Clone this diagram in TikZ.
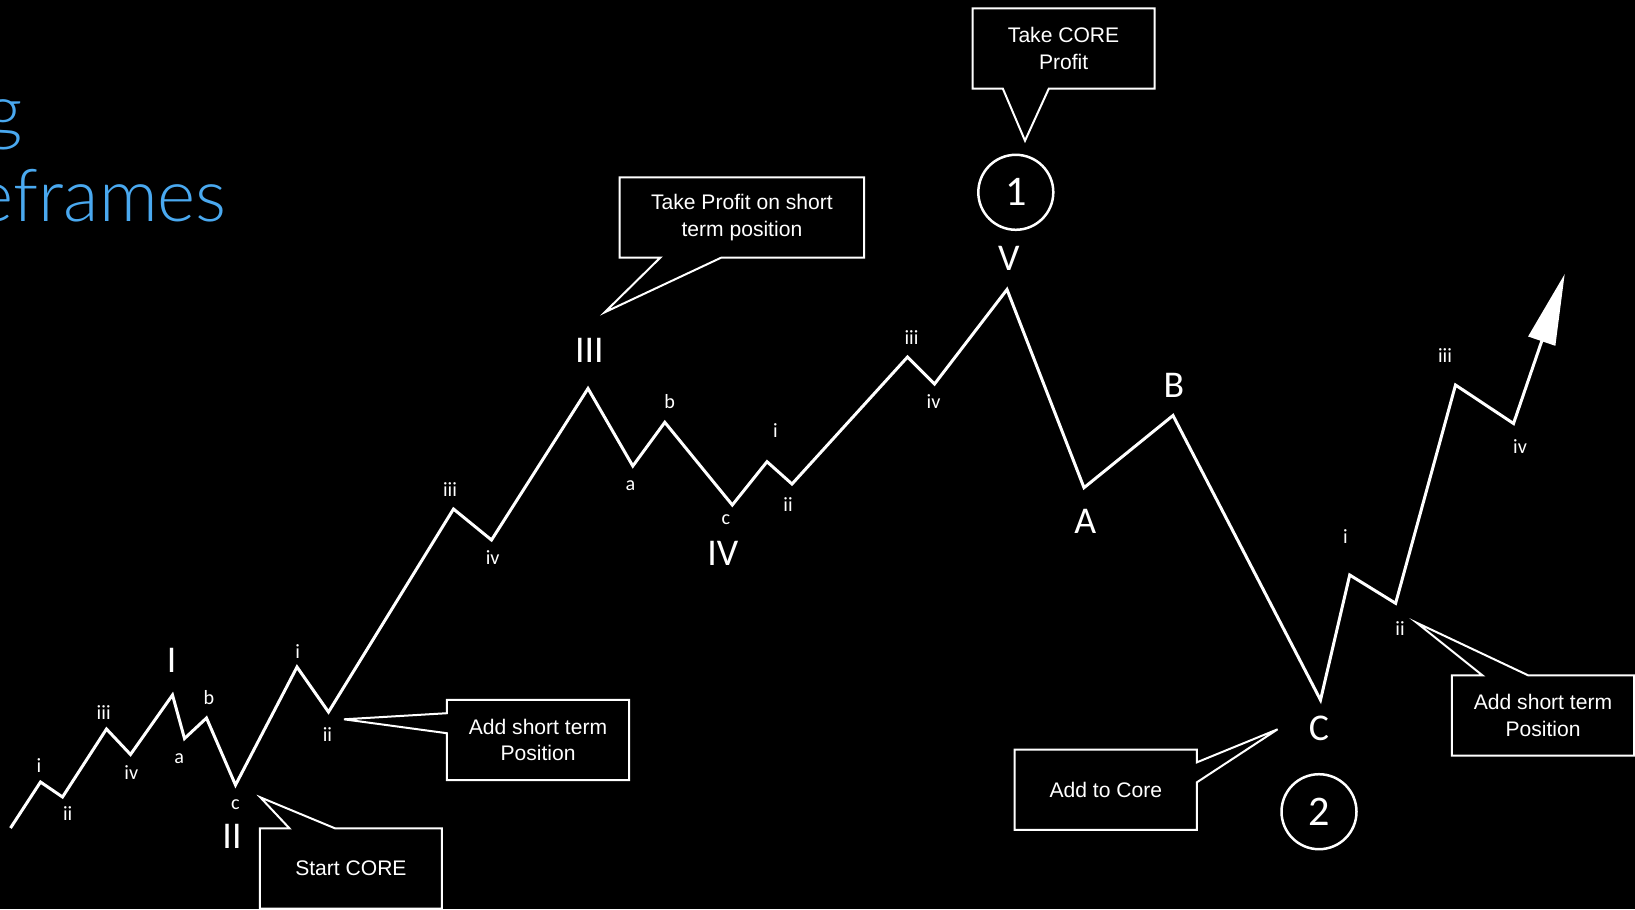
\documentclass[tikz,border=0pt]{standalone}
\usepackage{fontspec}
\setmainfont{Liberation Sans}
\newfontfamily\wavefont{Carlito}
\newfontfamily\titlefont{Lato Light}
\usetikzlibrary{arrows.meta,calc}
\definecolor{tfblue}{RGB}{74,169,240}
\tikzstyle{callbox} = [rectangle, minimum width=3.63cm, minimum height=1.59cm, inner sep=0pt, align=center, text=white, font=\fontsize{12}{15}\selectfont]
\tikzstyle{callline} = [draw=white, line width=0.04cm]
\tikzstyle{wave} = [draw=white, line width=0.06cm]
\tikzstyle{minor} = [text=white, inner sep=0pt, font=\wavefont\fontsize{11.5}{13}\selectfont]
\tikzstyle{major} = [text=white, inner sep=0pt, font=\wavefont\fontsize{21.5}{25}\selectfont]
\tikzstyle{marker} = [circle, draw=white, line width=0.05cm, minimum size=1.5cm, inner sep=0pt, text=white, font=\wavefont\fontsize{24}{28}\selectfont]
\tikzstyle{title} = [text=tfblue, inner sep=0pt, anchor=base east, font=\titlefont\fontsize{41.5}{48}\selectfont]
\begin{document}
\begin{tikzpicture}[x=0.02cm, y=-0.02cm]
\useasboundingbox (0,0) rectangle (1635,909);
\fill[black] (0,0) rectangle (1635,909);
\clip (0,0) rectangle (1635,909);

% title, cut off at the left
\node[title] (ttl1) at (23.5,136) {g};
\node[title] (ttl2) at (227,221.7) {eframes};

% the wave
\draw[wave, -{Triangle[length=1.42cm, width=0.56cm]}] (10.5,828) -- (40.5,782) -- (62.5,797) -- (106.5,729) -- (130.5,754.5) -- (172.5,695)
  -- (184.5,738.5) -- (206.5,718) -- (235.5,785)
  -- (297,667) -- (328.5,712) -- (453.5,509) -- (491.5,540) -- (588,388.5)
  -- (632.8,466) -- (664.8,422.3) -- (732.3,505)
  -- (767,461.7) -- (792,484) -- (907.5,357) -- (934.5,384) -- (1007,289.5)
  -- (1084,487.7) -- (1173,415.5) -- (1320.5,700)
  -- (1349.7,575) -- (1395.6,603.3) -- (1455.5,385) -- (1513.5,423.5) -- (1564.7,274);

% main waves
\node[major] (wI) at (171.7,660) {I};
\node[major] (wII) at (232,836.7) {II};
\node[major] (wIII) at (589.3,350) {III};
\node[major] (wIV) at (722.8,553.3) {IV};
\node[major] (wV) at (1008.8,258.3) {V};
\node[major] (wA) at (1085.4,521.7) {A};
\node[major] (wB) at (1174,385) {B};
\node[major] (wC) at (1319,728.3) {C};

% sub waves
\node[minor] (i1) at (39,766) {i};
\node[minor] (ii1) at (67.7,813.3) {ii};
\node[minor] (iii1) at (103.7,712.3) {iii};
\node[minor] (iv1) at (131.3,772.7) {iv};
\node[minor] (a2) at (179.3,758.3) {a};
\node[minor] (b2) at (209,697.3) {b};
\node[minor] (c2) at (235.3,805) {c};
\node[minor] (i3) at (297.6,651.7) {i};
\node[minor] (ii3) at (327.5,735) {ii};
\node[minor] (iii3) at (450,490) {iii};
\node[minor] (iv3) at (492.7,557.3) {iv};
\node[minor] (a4) at (630.4,486) {a};
\node[minor] (b4) at (669.7,401.7) {b};
\node[minor] (c4) at (726,520) {c};
\node[minor] (i5) at (775.4,430.7) {i};
\node[minor] (ii5) at (788,505) {ii};
\node[minor] (iii5) at (911.5,338) {iii};
\node[minor] (iv5) at (933.5,402) {iv};
\node[minor] (i6) at (1345.4,536.7) {i};
\node[minor] (ii6) at (1400,628.3) {ii};
\node[minor] (iii6) at (1445,356) {iii};
\node[minor] (iv6) at (1520,446.7) {iv};

% markers
\node[marker] (one) at (1015.8,192.3) {1};
\node[marker] (two) at (1319,811.7) {2};

% callouts
\node[callbox] (core) at (1063.6,48.5) {Take CORE\\Profit};
\coordinate (coretip) at (1025,140.7);
\draw[callline] (core.south west) -- (core.north west) -- (core.north east) -- (core.south east)
  -- ($(core.south west)+(76.3,0)$) -- (coretip) -- ($(core.south west)+(30.3,0)$) -- cycle;

\node[callbox, minimum width=4.874cm] (tps) at (741.9,217.5) {Take Profit on short\\term position};
\coordinate (tpstip) at (604.7,312.3);
\draw[callline] (tps.south west) -- (tps.north west) -- (tps.north east) -- (tps.south east)
  -- ($(tps.south west)+(101.6,0)$) -- (tpstip) -- ($(tps.south west)+(40.6,0)$) -- cycle;

\node[callbox] (addl) at (538,740) {Add short term\\Position};
\coordinate (addltip) at (344,719.3);
\draw[callline] (addl.north west) -- (addl.north east) -- (addl.south east) -- (addl.south west)
  -- ($(addl.north west)+(0,33.3)$) -- (addltip) -- ($(addl.north west)+(0,13.3)$) -- cycle;

\node[callbox] (start) at (350.9,868.5) {Start CORE};
\coordinate (starttip) at (260.3,797.3);
\draw[callline] (start.north west) -- ($(start.north west)+(29.7,0)$) -- (starttip) -- ($(start.north west)+(75.4,0)$)
  -- (start.north east) -- (start.south east) -- (start.south west) -- cycle;

\node[callbox] (addc) at (1105.8,789.7) {Add to Core};
\coordinate (addctip) at (1277.6,729.3);
\draw[callline] (addc.north west) -- (addc.north east) -- ($(addc.north east)+(0,12.7)$) -- (addctip)
  -- ($(addc.north east)+(0,32.7)$) -- (addc.south east) -- (addc.south west) -- cycle;

\node[callbox] (addr) at (1543,715.5) {Add short term\\Position};
\coordinate (addrtip) at (1416.6,622.7);
\draw[callline] (addr.north west) -- ($(addr.north west)+(30.6,0)$) -- (addrtip) -- ($(addr.north west)+(76.4,0)$)
  -- (addr.north east) -- (addr.south east) -- (addr.south west) -- cycle;
\end{tikzpicture}
\end{document}
